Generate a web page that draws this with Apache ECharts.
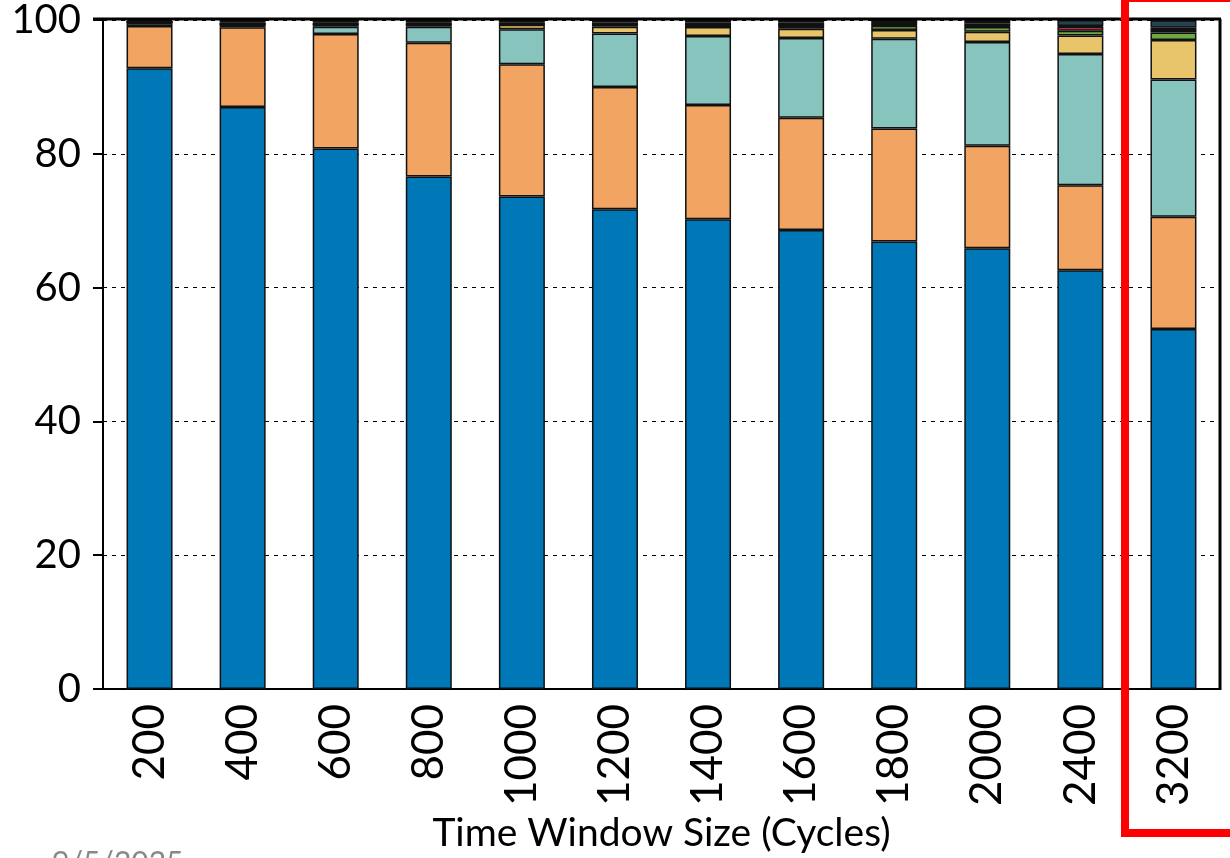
<!DOCTYPE html>
<html>
<head>
<meta charset="utf-8">
<script src="https://cdn.jsdelivr.net/npm/echarts@6/dist/echarts.min.js"></script>
<style>
  html, body { margin: 0; padding: 0; background: #fff; }
  #chart { width: 1230px; height: 858px; }
</style>
</head>
<body>
<div id="chart"></div>
<script>
// window sizes on the x axis
const windowSizes = ["200", "400", "600", "800", "1000", "1200", "1400", "1600", "1800", "2000", "2400", "3200"];
const yTicks = [0, 20, 40, 60, 80, 100];

// stacked shares (%) per window size, bottom to top
const blueVals   = [92.8, 87.0, 80.8, 76.6, 73.6, 71.7, 70.2, 68.6, 66.9, 65.9, 62.6, 53.8];
const orangeVals = [6.3, 11.9, 17.1, 20.0, 19.8, 18.3, 17.1, 16.8, 16.9, 15.3, 12.7, 16.8];
const tealVals   = [0.5, 0.4, 1.1, 2.4, 5.2, 8.0, 10.3, 11.9, 13.4, 15.5, 19.6, 20.5];
const yellowVals = [0.1, 0.1, 0.3, 0.3, 0.7, 1.0, 1.35, 1.4, 1.3, 1.55, 2.8, 5.9];
const greenVals  = [0, 0, 0.1, 0.1, 0.1, 0.3, 0.3, 0.45, 0.65, 0.7, 0.7, 1.15];
const redVals    = [0, 0, 0, 0, 0, 0.05, 0.05, 0.1, 0.1, 0.1, 0.6, 0.35];
const cyanVals   = [0, 0, 0, 0, 0, 0, 0, 0, 0.05, 0.05, 0.1, 0.35];
const slateVals  = [0.1, 0.2, 0.2, 0.2, 0.2, 0.3, 0.3, 0.35, 0.4, 0.4, 0.9, 1.1];
const blackVals  = [0.2, 0.4, 0.4, 0.4, 0.4, 0.35, 0.4, 0.4, 0.3, 0.5, 0, 0.05];

const layers = [
  ["blue", blueVals, "#0077b6"],
  ["orange", orangeVals, "#f2a462"],
  ["teal", tealVals, "#86c4bd"],
  ["yellow", yellowVals, "#e8c46a"],
  ["green", greenVals, "#6baa44"],
  ["red", redVals, "#e03c46"],
  ["cyan", cyanVals, "#1ba39a"],
  ["slate", slateVals, "#24434f"],
  ["black", blackVals, "#111111"],
];

const font = "Lato, 'Open Sans', sans-serif";
const ch = echarts.init(document.getElementById("chart"));

ch.setOption({
  animation: false,
  backgroundColor: "#fff",
  grid: { left: 103, right: 10, top: 19, bottom: 168 },
  xAxis: {
    type: "category",
    data: windowSizes,
    name: "Time Window Size (Cycles)",
    nameLocation: "middle",
    nameGap: 124,
    nameTextStyle: { color: "#000", fontSize: 39, fontFamily: font },
    axisLine: { lineStyle: { color: "#000", width: 2 } },
    axisTick: { alignWithLabel: true, length: 10, lineStyle: { color: "#000", width: 2 } },
    axisLabel: { rotate: 90, margin: 15, color: "#000", fontSize: 44, fontFamily: font },
  },
  yAxis: {
    type: "value",
    min: yTicks[0],
    max: yTicks[yTicks.length - 1],
    interval: 20,
    axisLine: { show: true, lineStyle: { color: "#000", width: 2 } },
    axisTick: { show: true, length: 10, lineStyle: { color: "#000", width: 2 } },
    axisLabel: { margin: 22, color: "#000", fontSize: 40, fontFamily: font },
    splitLine: {
      lineStyle: { color: "#000", width: 1, type: [4, 5] },
    },
  },
  series: layers.map(([name, vals, color]) => ({
    name,
    type: "bar",
    stack: "share",
    data: vals,
    barWidth: 46,
    itemStyle: { color, borderColor: "#111", borderWidth: 1.5 },
  })),
  graphic: [
    // frame top and right edge
    { type: "line", shape: { x1: 93, y1: 19, x2: 1221, y2: 19 }, style: { stroke: "#000", lineWidth: 3 }, z: 50 },
    { type: "line", shape: { x1: 1220, y1: 19, x2: 1220, y2: 690 }, style: { stroke: "#000", lineWidth: 3 }, z: 50 },
    // red highlight box
    { type: "rect", shape: { x: 1125, y: -2, width: 140, height: 835 }, style: { fill: "none", stroke: "#ff0000", lineWidth: 8 }, z: 60 },
    // slide footer, cut by the page edge
    { type: "text", left: 52, top: 848, style: { text: "9/5/2025", fill: "#888", font: "30px " + font } },
  ],
});
</script>
</body>
</html>
